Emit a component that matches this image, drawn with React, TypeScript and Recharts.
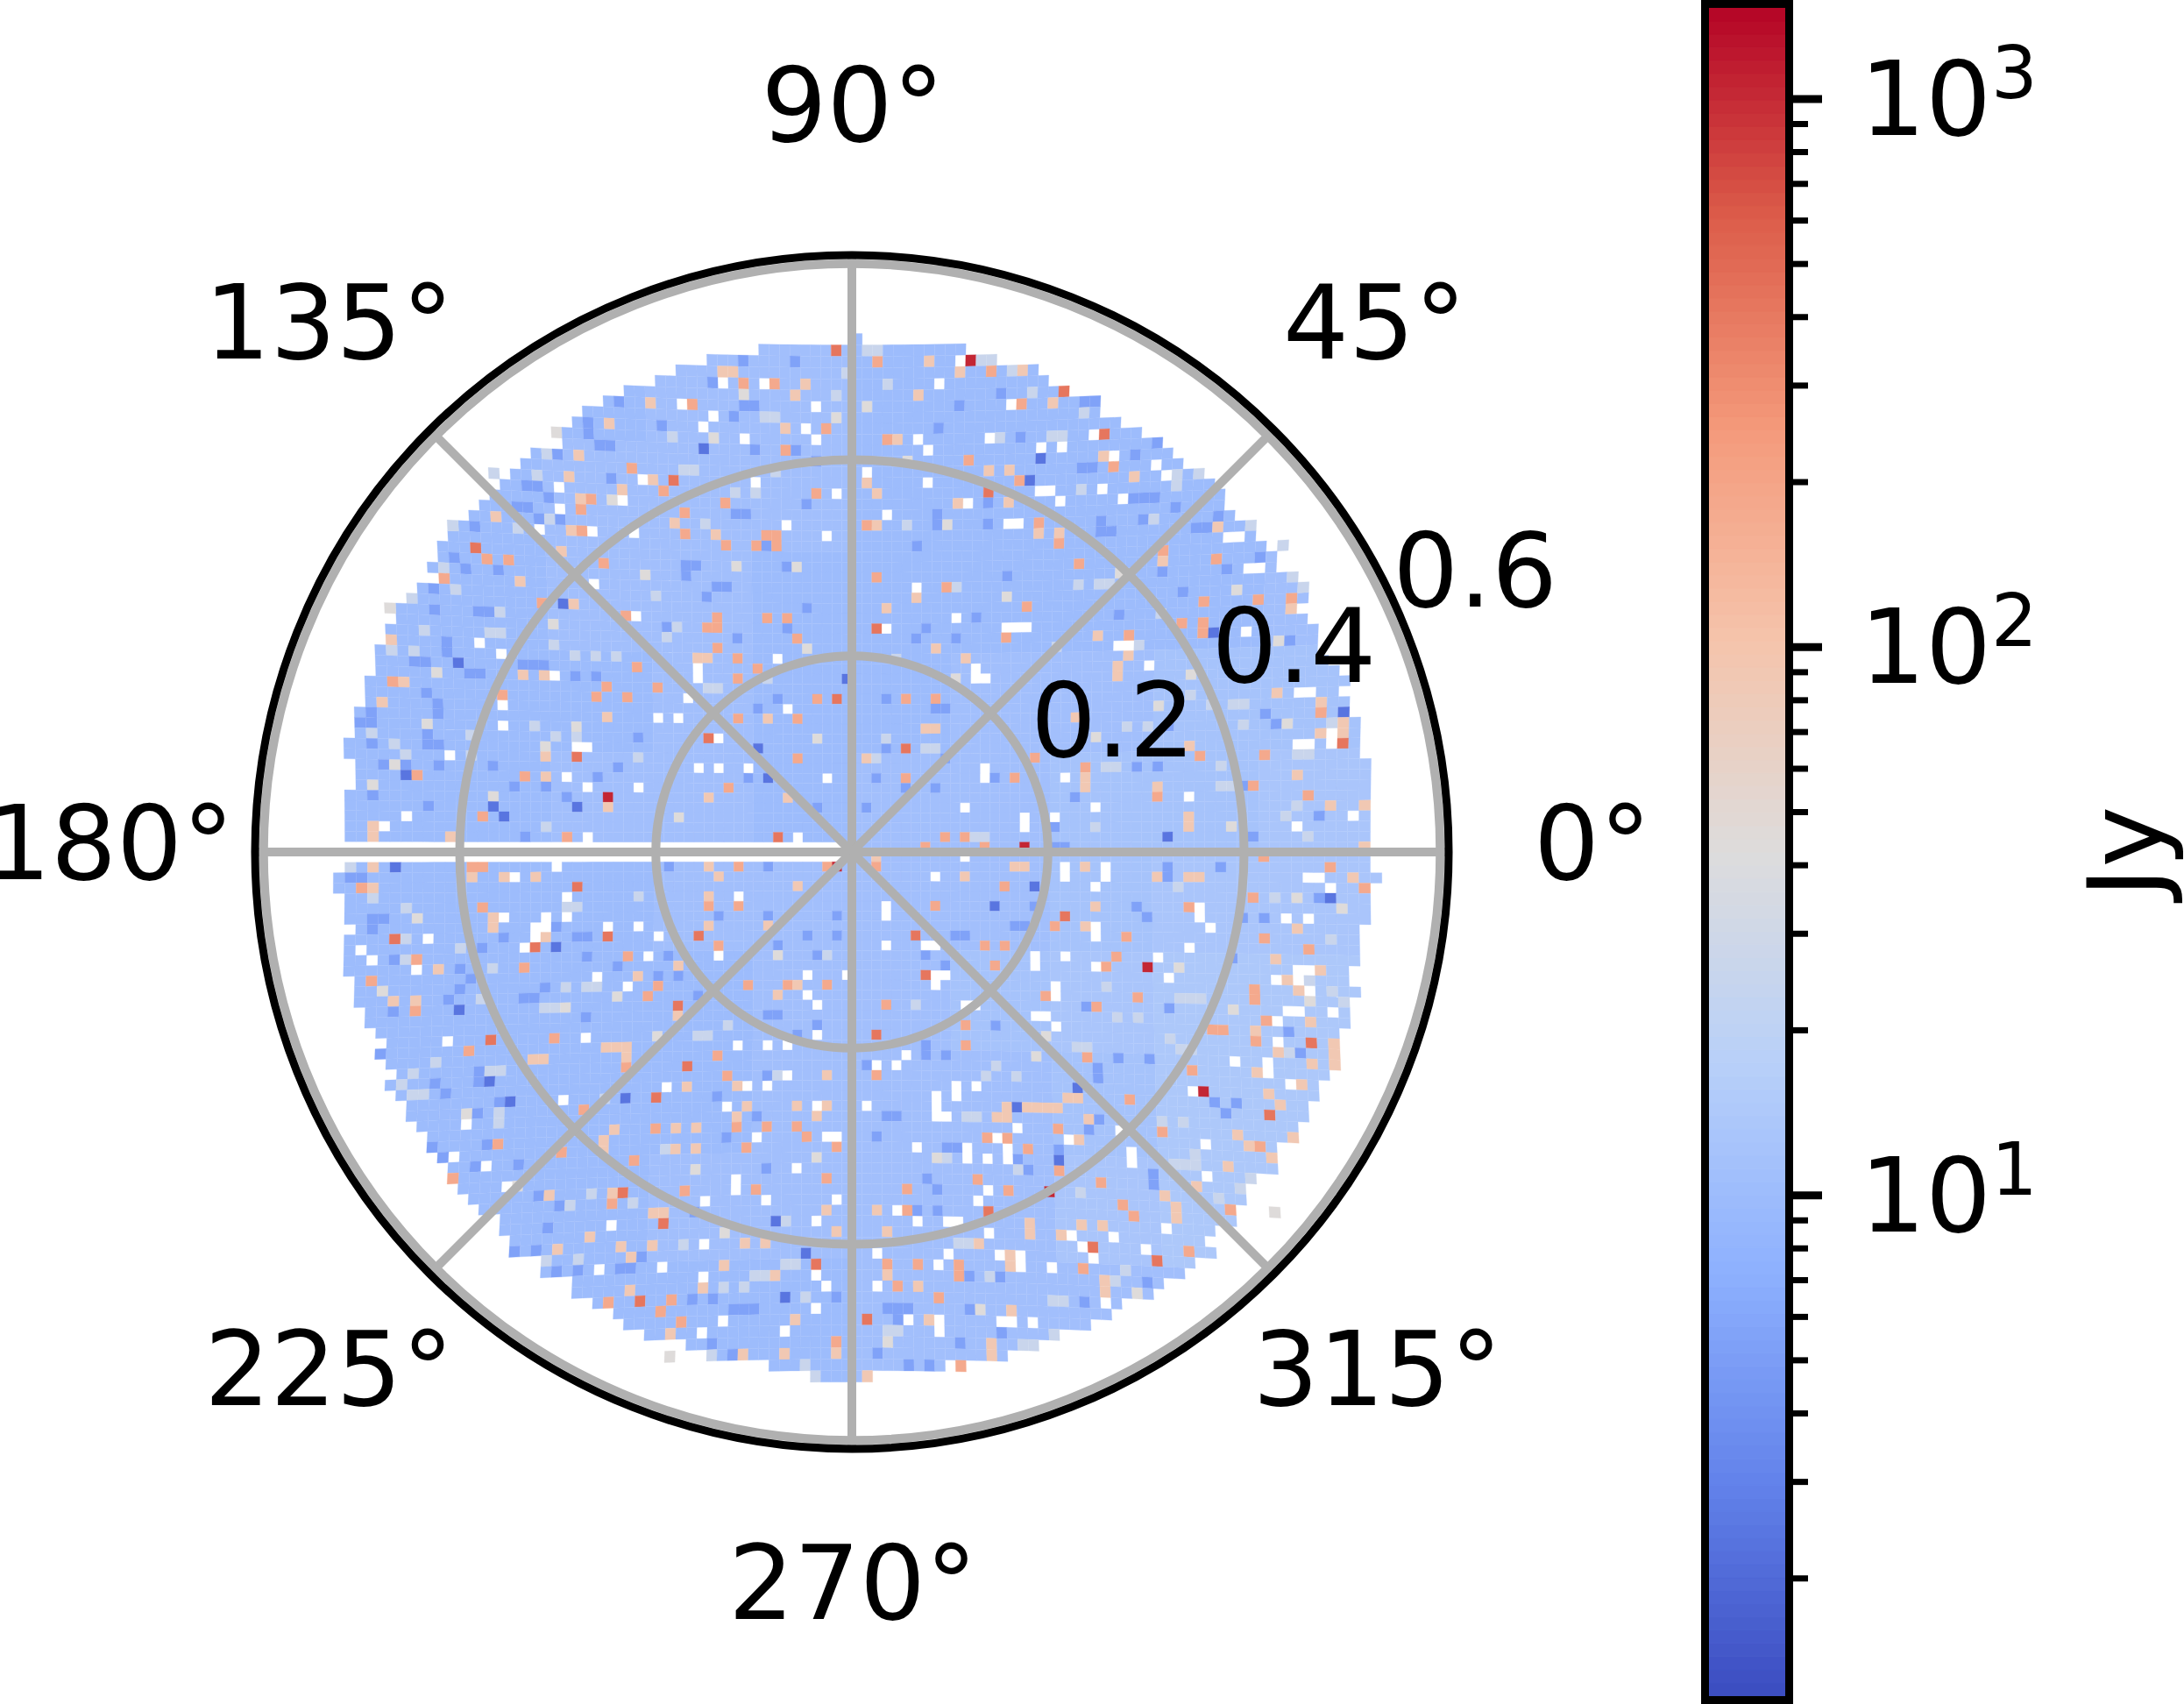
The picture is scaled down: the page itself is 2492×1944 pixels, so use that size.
import React from "react";
import {
  ComposedChart, ScatterChart, RadarChart, Scatter, Radar, XAxis, YAxis, PolarGrid, PolarAngleAxis,
  PolarRadiusAxis, ReferenceArea, Label,
} from "recharts";

// Values read by eye. Cells that stand out are listed one by one; everything else
// uses a coarse regional estimate, so most single blue cells are not exact readings.

//#region Data

const angleLabels = ["90°", "45°", "0°", "315°", "270°", "225°", "180°", "135°"];
const radiusTicks = [0.2, 0.4, 0.6];
const colorbarTicks = [2, 3, 4, 5, 6, 7, 8, 9, 10, 20, 30, 40, 50, 60, 70, 80, 90, 100, 200, 300, 400, 500, 600, 700, 800, 900, 1000];
const majorTicks = [10, 100, 1000];

// first and last column of each grid row, rows -50 to 50
const rowStart = [0, -9, -14, -17, -19, -22, -24, -26, -27, -29, -28, -31, -32, -33, -34, -35, -36, -37, -38, -39, -40, -40, -41, -40, -42, -43, -44, -44, -45, -45, -46, -46, -46, -47, -47, -47, -48, -48, -48, -49, -49, -48, -48, -48, -49, -49, -49, -49, -49, 0, 0, -49, -50, -50, -49, -49, -49, -48, -49, -49, -49, -49, -48, -48, -48, -47, -47, -46, -45, -46, -45, -44, -45, -44, -43, -43, -42, -41, -41, -40, -39, -38, -38, -37, -36, -34, -34, -33, -33, -30, -30, -27, -27, -25, -23, -22, -20, -16, -14, -8, -4];
const rowEnd = [0, 10, 13, 17, 18, 20, 23, 23, 25, 27, 29, 30, 31, 33, 34, 35, 35, 36, 38, 38, 39, 40, 40, 42, 42, 43, 42, 43, 44, 44, 44, 45, 46, 47, 46, 47, 47, 48, 48, 48, 48, 49, 49, 49, 49, 49, 49, 49, 49, 49, 49, 49, 50, 49, 49, 49, 49, 48, 48, 48, 48, 48, 48, 48, 47, 47, 47, 46, 46, 46, 46, 45, 44, 44, 43, 43, 42, 42, 40, 40, 40, 38, 37, 37, 36, 36, 34, 33, 34, 32, 31, 29, 28, 25, 24, 22, 19, 17, 14, 8, 1];

// regional background level in Jy, one row per ten grid rows, one value per ten columns
const regionLevels = [
  [10, 10, 10, 11, 11, 10, 10, 10, 10, 10],
  [10, 10, 11, 11, 11, 10, 10, 10, 10, 10],
  [10, 10, 11, 11, 10, 10, 10, 10, 10, 11],
  [10, 10, 10, 11, 10, 10, 11, 11, 12, 12],
  [10, 10, 11, 11, 10, 11, 11, 12, 12, 13],
  [10, 10, 10, 11, 11, 11, 11, 12, 13, 13],
  [10, 10, 10, 10, 11, 11, 12, 13, 14, 14],
  [10, 10, 10, 10, 11, 11, 11, 12, 14, 14],
  [10, 10, 10, 11, 11, 11, 11, 13, 14, 14],
  [11, 11, 10, 10, 10, 11, 11, 11, 11, 11],
];

const redCells = [[-25, -6], [17, -1], [-2, 1], [29, 11], [34, 23], [19, 33], [11, -48]];
const orangeCells = [[-2, -49], [-18, -37], [-37, -30], [-28, -10], [-15, -12], [-8, -2], [-2, -16], [20, -45], [24, -41], [13, -36], [2, -23], [5, -11], [47, -11], [-28, 3], [-36, 18], [-23, 33], [-21, 43], [-45, 8], [-25, 8], [-32, 9], [-16, 8], [-18, 15], [-17, 21], [-20, 24], [-19, 36], [-4, 40], [6, 8], [21, 6], [44, 18], [40, 25], [7, 12], [13, 35], [2, 18], [23, 38], [29, 39], [1, 45]];
const salmonCells = [[-16, -44], [-8, -46], [-11, -46], [-3, -42], [-7, -40], [-19, -36], [-22, -38], [-13, -35], [-4, -36], [-17, -34], [-17, -32], [-13, -31], [-10, -31], [-8, -32], [-9, -32], [-8, -31], [-36, -29], [-34, -29], [-40, -27], [-27, -32], [-25, -29], [-23, -24], [-31, -25], [-14, -24], [-9, -24], [-7, -24], [-15, -23], [-14, -23], [-6, -22], [-14, -21], [-12, -20], [-10, -19], [-45, -17], [-22, -19], [-43, -8], [-35, -16], [-26, -16], [-23, -16], [-25, -17], [-20, -17], [-12, -18], [-4, -16], [-6, -14], [-12, -14], [-6, -10], [-33, -8], [-13, -7], [-37, -4], [-29, -2], [2, -48], [13, -47], [-26, -35], [-27, -34], [16, -44], [3, -41], [25, -38], [11, -39], [16, -37], [18, -33], [20, -31], [35, -29], [30, -30], [42, -25], [39, -25], [34, -25], [34, -23], [34, -22], [32, -23], [27, -22], [22, -29], [17, -25], [9, -27], [2, -28], [1, -33], [15, -22], [18, -10], [5, -16], [8, -16], [45, -14], [44, -6], [40, -10], [34, -10], [30, -6], [23, -9], [5, -8], [16, -8], [39, -7], [11, -2], [13, -1], [7, -1], [9, -2], [8, 5], [44, 9], [36, 34], [32, 38], [22, 40], [10, 41], [3, 15], [11, 19], [11, 17], [2, 22], [30, 27], [27, 24], [39, 28], [39, 18], [39, 4], [40, 0], [46, 1], [49, 3], [40, 8], [35, 17], [36, 17], [33, 21], [23, 20], [19, 14], [14, 11], [15, 9], [13, 9], [26, 10], [25, 11], [24, 15], [28, 14], [33, 5], [27, 8], [15, 3], [20, 7], [2, 1], [39, 13], [39, 14], [40, 16], [27, 35], [26, 34], [24, 32], [20, 31], [15, 33], [12, 32], [5, 33], [5, 35], [3, 40], [6, 40], [10, 40], [4, 42], [8, 43], [20, 27], [13, 28], [15, 28], [17, 29], [10, 49], [-48, 3], [-37, 5], [-15, 5], [-12, 5], [-14, 9], [-23, 10], [-43, 10], [-33, 11], [-47, 12], [-20, 13], [-21, 14], [-11, 13], [-3, 13], [-7, 13], [-30, 18], [-23, 21], [-38, 19], [-14, 20], [-35, 28], [-22, 30], [-12, 27], [-9, 27], [-5, 28], [-6, 27], [-2, 29], [-17, 33], [-39, 31], [-10, 33], [-3, 32], [-24, 34], [-13, 22], [-2, 47], [-24, 43], [-18, 43], [-19, 44], [-17, 45], [-43, 15], [-38, 1], [-37, 1], [-27, 25], [-29, 29], [-20, 27], [-11, 29], [-12, 1], [-3, 1]];
const peachCells = [[-13, -47], [-12, -47], [-6, -45], [-5, -46], [-7, -42], [-24, -42], [-20, -44], [-27, -39], [-28, -37], [-20, -37], [-23, -36], [-27, -35], [-18, -33], [-14, -32], [-35, -33], [-33, -27], [-28, -32], [-29, -30], [-28, -25], [-16, -20], [-15, -20], [-44, -17], [-45, -21], [-46, -15], [-33, -18], [-31, -18], [-25, -14], [-9, -14], [-31, -8], [-31, -10], [-15, -6], [-7, -6], [-25, -5], [-47, -3], [-47, -2], [-40, -2], [7, -48], [10, -47], [16, -47], [6, -45], [19, -44], [4, -41], [24, -39], [13, -38], [15, -38], [1, -37], [2, -36], [15, -35], [10, -35], [27, -37], [18, -32], [20, -32], [35, -32], [30, -29], [42, -24], [24, -22], [3, -25], [6, -26], [2, -33], [1, -10], [8, -21], [11, -20], [26, -19], [26, -18], [27, -20], [22, -14], [41, -16], [45, -15], [47, -13], [47, -12], [45, -12], [46, -12], [30, -7], [33, -11], [23, -8], [23, -7], [43, -8], [46, -5], [49, -5], [7, -13], [8, -13], [33, -4], [33, -3], [49, -1], [2, 0], [11, 2], [16, 1], [17, 1], [23, 1], [30, 2], [33, 2], [34, 2], [23, 7], [24, 5], [43, 7], [48, 2], [45, 11], [42, 12], [43, 13], [41, 10], [44, 16], [39, 17], [41, 19], [46, 19], [46, 18], [44, 20], [46, 20], [39, 21], [43, 22], [40, 23], [41, 24], [37, 27], [38, 28], [40, 29], [42, 27], [36, 30], [33, 32], [30, 33], [31, 34], [31, 35], [2, 35], [3, 37], [17, 36], [22, 36], [24, 36], [20, 37], [17, 37], [12, 38], [15, 39], [15, 40], [24, 41], [24, 42], [3, 41], [6, 42], [7, 45], [15, 44], [13, 47], [13, 48], [1, 50], [23, 26], [17, 25], [18, 25], [19, 25], [20, 25], [21, 24], [22, 24], [15, 25], [15, 26], [14, 26], [22, 28], [-47, 1], [-38, 2], [-35, 2], [-32, 2], [-47, 3], [-15, 1], [-14, 2], [-15, 4], [-6, 3], [-36, 6], [-36, 7], [-31, 8], [-15, 7], [-9, 7], [-41, 11], [-22, 12], [-18, 11], [-45, 14], [-43, 14], [-6, 13], [-8, 14], [-18, 16], [-25, 19], [-24, 19], [-23, 19], [-23, 20], [-31, 20], [-32, 20], [-12, 26], [-4, 26], [-3, 25], [-11, 25], [-6, 25], [-17, 23], [-12, 23], [-3, 22], [-25, 28], [-25, 29], [-24, 27], [-18, 27], [-16, 27], [-18, 29], [-16, 29], [-20, 35], [-19, 35], [-24, 33], [-30, 33], [-26, 37], [-29, 38], [-23, 38], [-22, 39], [-22, 42], [-13, 40], [-8, 41], [-7, 48], [-11, 48], [-2, 48], [-18, 46], [-6, 45], [-11, 38], [-9, 38], [-2, 37], [-3, 35], [-15, 42], [-20, 38]];
const grayCells = [[-29, -41], [-11, -45], [-2, -43], [-24, -35], [-35, -20], [-28, -13], [-41, -18], [-45, -24], [-21, -28], [-6, -29], [-42, -13], [-45, -9], [-47, -7], [-14, -41], [-31, -11], [-18, -4], [-5, -21], [-30, -23], [1, -44], [5, -39], [9, -33], [15, -26], [26, -28], [33, -18], [41, -21], [42, -13], [37, -3], [43, 4], [47, 5], [44, 14], [32, 11], [18, 20], [27, 30], [12, 44], [3, 47], [-4, 30], [-20, 18], [-38, 25], [-43, 6], [-25, 40], [-13, 37], [-29, 15], [-8, 10], [27, 42], [40, 34], [37, 15], [24, -12], [10, -18], [-12, -29], [-36, -6], [-46, 13], [-33, 32], [-18, 48], [8, 30], [19, 18], [30, -15], [37, -26], [-4, -12], [-24, 14], [-16, 31]];
const paleCells = [[-1, -47], [3, -46], [-18, -41], [-31, -37], [-42, -22], [-47, -12], [-8, -38], [5, -33], [14, -41], [22, -36], [30, -24], [38, -15], [44, -2], [46, 8], [42, 19], [37, 24], [33, 29], [22, 33], [13, 41], [5, 44], [-5, 43], [-17, 38], [-26, 33], [-35, 26], [-41, 20], [-44, 8], [-38, -10], [-28, -20], [-20, -26], [-9, -18], [3, -12], [14, -8], [24, -3], [32, 3], [25, 13], [16, 22], [6, 15], [-3, 10], [-13, 17], [-22, 4], [-31, -3], [10, -27], [20, -21], [-15, -33], [-37, 14], [-25, 24], [-7, 36], [29, 20], [41, 4], [36, -9],
  [-30, -39], [-35, -37], [-39, -32], [-40, -28], [-39, -26], [-43, -25], [-35, -24], [-35, -22], [-36, -22], [-43, -20], [-45, -20], [-28, -20], [-26, -20], [-24, -20], [-17, -38], [-16, -38], [-12, -36], [-10, -36], [-12, -43], [-9, -43], [-8, -43], [-4, -44], [-2, -45], [-30, -33], [-33, -32], [-15, -17], [-14, -17], [-18, -23], [-19, -22], [-30, -12], [-28, -12], [-30, -21], [-22, -10], [-32, -13], [-38, -12], [-45, -11], [-44, -10],
  [1, -49], [2, -49], [12, -48], [13, -48], [15, -47], [17, -45], [22, -43], [19, -41], [20, -41], [31, -37], [31, -36], [33, -37], [38, -32], [41, -30], [42, -27], [43, -26], [29, -33], [25, -27], [24, -27], [22, -27], [28, -21], [33, -16], [35, -15], [37, -15], [38, -13], [43, -10], [44, -10], [46, -13], [47, -13], [42, -4], [43, -5], [36, -7], [37, -7], [27, -13], [29, -13], [15, -22], [8, -11], [7, -11], [25, -9], [26, -9], [12, -2], [13, -2], [4, -20], [2, -10],
  [43, 11], [44, 12], [46, 13], [47, 14], [32, 14], [33, 14], [34, 14], [31, 18], [32, 19], [33, 19], [30, 26], [32, 26], [31, 30], [32, 30], [33, 30], [35, 33], [37, 32], [38, 31], [22, 19], [23, 19], [26, 16], [28, 16], [14, 21], [13, 22], [11, 26], [12, 26], [8, 30], [9, 30], [17, 31], [16, 31], [10, 38], [11, 38], [20, 43], [19, 43], [19, 46], [16, 47], [17, 47], [3, 46], [4, 46], [26, 40], [25, 41],
  [-49, 1], [-44, 5], [-47, 4], [-39, 9], [-44, 10], [-36, 11], [-29, 5], [-28, 5], [-29, 13], [-27, 13], [-26, 13], [-31, 15], [-30, 15], [-36, 21], [-35, 21], [-43, 21], [-44, 22], [-43, 23], [-42, 23], [-35, 25], [-15, 18], [-16, 18], [-9, 22], [-8, 22], [-28, 34], [-29, 34], [-30, 39], [-27, 39], [-10, 41], [-9, 41], [-7, 40], [-6, 40], [-14, 48], [-5, 49], [-4, 50], [-19, 29], [-22, 34], [-13, 42], [-11, 42]];
const midBlueCells = [[-12, -43], [-4, -39], [-24, -37], [-37, -24], [-41, -14], [-36, -9], [-14, -27], [-5, -25], [-19, -23], [-31, -19], [-22, -12], [-11, -8], [-4, -5], [-33, -2], [8, -42], [16, -41], [6, -31], [15, -28], [26, -24], [10, -22], [19, -16], [31, -13], [5, -7], [20, -3], [9, -10], [28, -33], [36, -20], [3, 5], [10, 8], [18, 5], [9, 20], [16, 30], [4, 26], [23, 15], [28, 5], [14, 39], [4, 45], [-2, 43], [-11, 44], [-23, 40], [-33, 30], [-40, 23], [-46, 6], [-38, 12], [-27, 16], [-14, 24], [-6, 18], [-19, 10], [-9, 31], [-29, 34], [-2, 6], [-16, 35], [-42, -5], [-24, -9], [-30, 7],
  [-26, -41], [-26, -42], [-25, -40], [-24, -40], [-29, -39], [-32, -36], [-31, -36], [-30, -35], [-33, -34], [-32, -34], [-31, -33], [-29, -33], [-37, -32], [-39, -29], [-38, -28], [-35, -28], [-41, -26], [-36, -24], [-41, -24], [-40, -20], [-40, -21], [-42, -19], [-43, -19], [-39, -19], [-38, -18], [-37, -18], [-42, -16], [-41, -15], [-47, -14], [-48, -13], [-47, -13], [-47, -11], [-42, -12], [-41, -11], [-42, -11], [-46, -9], [-44, -9], [-41, -9], [-47, -6], [-34, -7], [-31, -7], [-29, -6], [-26, -8], [-33, -19], [-32, -19], [-28, -18], [-26, -18], [-17, -29], [-17, -28], [-16, -29], [-13, -27], [-9, -31], [-7, -29], [-12, -22], [-7, -23], [-10, -15], [-8, -16], [-11, -34], [-12, -34], [-5, -35], [-10, -40], [-6, -40], [-11, -44], [-10, -44], [-6, -48], [-11, -48], [-14, -46], [-23, -44], [-19, -42], [-15, -26],
  [14, -45], [10, -44], [22, -44], [23, -44], [22, -38], [23, -38], [27, -39], [29, -40], [24, -33], [24, -32], [25, -32], [27, -35], [28, -35], [29, -35], [31, -34], [35, -33], [33, -32], [34, -32], [30, -28], [32, -26], [36, -28], [39, -29], [42, -21], [40, -14], [41, -13], [45, -15], [12, -24], [8, -34], [8, -33], [13, -35], [13, -33], [3, -16], [6, -22], [7, -23], [8, -15], [9, -15], [3, -11], [2, -8], [8, -7], [1, -5], [14, -8], [13, -8], [22, -6], [30, -9], [28, -9], [38, -7], [39, -2], [45, -4], [20, -1], [21, -1],
  [1, 21], [7, 20], [7, 19], [8, 33], [8, 35], [7, 32], [6, 35], [17, 31], [18, 20], [24, 21], [24, 22], [24, 26], [23, 27], [29, 31], [29, 32], [36, 25], [37, 24], [35, 24], [43, 19], [42, 17], [48, 11], [45, 4], [38, 6], [40, 6], [31, 1], [31, 2], [36, 1], [29, 6], [14, 5], [17, 7], [16, 7], [11, 8], [7, 10], [9, 11], [37, 10], [31, 15], [26, 20], [29, 20], [14, 17], [3, 26], [2, 28], [9, 29], [10, 29], [20, 29], [11, 41], [4, 44], [3, 44], [5, 44], [11, 44], [14, 46], [10, 47], [2, 48], [5, 49], [7, 49], [14, 41], [22, 43], [28, 41],
  [-48, 2], [-49, 2], [-45, 1], [-47, 6], [-47, 7], [-45, 10], [-39, 11], [-37, 9], [-35, 8], [-27, 10], [-28, 8], [-27, 8], [-24, 11], [-37, 21], [-37, 22], [-20, 12], [-31, 13], [-33, 14], [-32, 14], [-39, 13], [-40, 14], [-45, 15], [-46, 19], [-41, 22], [-40, 23], [-35, 24], [-37, 25], [-36, 28], [-41, 28], [-40, 29], [-37, 30], [-31, 33], [-30, 36], [-33, 38], [-31, 38], [-29, 40], [-27, 40], [-23, 40], [-22, 40], [-21, 39], [-16, 43], [-14, 43], [-12, 44], [-10, 44], [-14, 47], [-12, 48], [-9, 34], [-13, 28], [-10, 26], [-9, 22], [-4, 17], [-9, 16], [-8, 16], [-16, 14], [-18, 12], [-14, 6], [-9, 6], [-2, 8], [-5, 8], [-8, 9], [-4, 10], [-9, 1], [-19, 1]];
const deepBlueCells = [[-15, -40], [-29, -25], [-1, -18], [-10, -11], [-9, -8], [-28, -5], [-35, -4], [-36, -5], [-44, -8], [-39, -19], [17, -37], [18, -39], [35, -22], [47, -14], [31, -2], [22, 23], [16, 25], [20, 30], [18, 3], [46, 4], [14, 5], [-30, 9], [-36, 22], [-34, 24], [-39, 15], [-23, 24], [-45, 1], [-7, 43], [-5, 39], [-8, 36]];
const blankCells = [[-17, -44], [-15, -42], [-14, -43], [-11, -41], [-9, -46], [-13, -46], [-4, -44], [-5, -42], [-4, -41], [-21, -37], [-10, -37], [-23, -35], [-29, -34], [-29, -36], [-2, -36], [-7, -33], [-3, -32], [-26, -32], [-31, -32], [-22, -32], [-26, -27], [-22, -24], [-16, -19], [-16, -18], [-8, -20], [-37, -21], [-35, -20], [-40, -10], [-28, -11], [-27, -11], [-35, -15], [-35, -13], [-30, -18], [-17, -16], [-20, -14], [-18, -14], [-14, -12], [-7, -15], [-14, -9], [-16, -9], [-11, -9], [-3, -8], [-29, -8], [-27, -7], [-22, -7], [-44, -4], [-46, -3], [-27, -2], [-6, -2], [10, -48], [8, -46], [15, -44], [23, -41], [6, -41], [7, -40], [13, -41], [18, -40], [20, -40], [25, -39], [29, -38], [30, -37], [11, -35], [1, -38], [7, -37], [18, -36], [19, -36], [20, -35], [24, -36], [26, -35], [15, -33], [16, -33], [36, -31], [37, -31], [38, -28], [39, -28], [26, -21], [27, -21], [3, -34], [3, -23], [6, -27], [15, -23], [16, -23], [17, -23], [10, -24], [12, -19], [12, -18], [13, -18], [29, -19], [38, -22], [43, -11], [44, -11], [46, -12], [46, -11], [43, -16], [44, -16], [21, -8], [13, -9], [13, -8], [17, -4], [17, -3], [20, -4], [24, -5], [11, -5], [33, -6], [43, -3], [48, -4], [3, 5], [3, 6], [11, 0], [21, 1], [21, 2], [25, 1], [25, 2], [24, 3], [8, 2], [44, 2], [45, 2], [46, 3], [34, 5], [34, 6], [42, 6], [44, 6], [24, 7], [24, 8], [33, 9], [35, 7], [7, 9], [8, 9], [3, 9], [18, 10], [18, 11], [21, 10], [30, 10], [24, 11], [8, 12], [9, 12], [8, 13], [20, 13], [20, 14], [31, 12], [41, 12], [43, 11], [43, 12], [44, 11], [48, 11], [48, 12], [44, 13], [12, 15], [11, 15], [18, 16], [19, 16], [20, 17], [42, 15], [43, 15], [46, 15], [41, 16], [41, 18], [40, 20], [40, 21], [37, 20], [42, 22], [33, 23], [5, 20], [2, 21], [4, 21], [10, 23], [10, 24], [12, 23], [8, 24], [8, 25], [8, 26], [9, 26], [1, 25], [16, 27], [14, 28], [21, 28], [26, 27], [27, 29], [27, 30], [15, 29], [15, 30], [11, 29], [11, 30], [6, 29], [13, 30], [34, 28], [34, 31], [13, 33], [12, 34], [4, 35], [9, 36], [10, 36], [6, 36], [13, 37], [21, 37], [25, 37], [30, 36], [22, 38], [28, 38], [16, 39], [16, 40], [14, 39], [23, 39], [9, 39], [8, 40], [2, 39], [19, 40], [2, 42], [24, 43], [5, 45], [8, 45], [8, 46], [14, 45], [15, 45], [17, 45], [-30, 1], [-34, 2], [-29, 4], [-35, 6], [-31, 6], [-31, 7], [-32, 7], [-32, 8], [-29, 6], [-25, 7], [-22, 7], [-20, 8], [-48, 9], [-42, 8], [-47, 10], [-43, 11], [-33, 9], [-21, 10], [-26, 12], [-23, 13], [-12, 4], [-14, 10], [-5, 12], [-1, 12], [-4, 15], [-5, 14], [-40, 18], [-27, 18], [-12, 19], [-9, 19], [-7, 19], [-4, 18], [-38, 26], [-29, 24], [-19, 23], [-7, 22], [-9, 23], [-11, 23], [-13, 25], [-4, 25], [-10, 28], [-3, 28], [-2, 28], [-39, 29], [-36, 30], [-34, 32], [-6, 31], [-12, 32], [-12, 33], [-15, 34], [-9, 34], [-2, 34], [-24, 36], [-4, 36], [-15, 38], [-25, 40], [-19, 40], [-15, 41], [-3, 42], [-4, 41], [-4, 44], [-13, 45], [-7, 46], [-15, 46]];

const cellLevels: [number[][], number | null][] = [
  [paleCells, 26], [midBlueCells, 5.5], [deepBlueCells, 2.4], [grayCells, 44], [peachCells, 90],
  [salmonCells, 180], [orangeCells, 420], [redCells, 1050], [blankCells, null],
];

//#endregion

const colorStops = ["#3b4cc0", "#6282ea", "#8db0fe", "#b8d0f9", "#dddcdc", "#f5c4ac", "#f49a7b", "#dc5d4a", "#b40426"];
const minJy = 1.22;
const maxJy = 1466;
const outerValue = 0.6087;
const outerPx = 681;
const pxPerUnit = outerPx / outerValue;

const hexRgb = (hex: string) => [1, 3, 5].map((i) => parseInt(hex.slice(i, i + 2), 16));

const jyColor = (jy: number) => {
  const t = (Math.log10(jy) - Math.log10(minJy)) / (Math.log10(maxJy) - Math.log10(minJy));
  const pos = Math.min(0.9999, Math.max(0, t)) * (colorStops.length - 1);
  const i = Math.floor(pos);
  const a = hexRgb(colorStops[i]);
  const b = hexRgb(colorStops[i + 1]);
  const mix = a.map((v, k) => Math.round(v + (b[k] - v) * (pos - i)));
  return `rgb(${mix.join(",")})`;
};

// grid index to polar plot coordinates, the cells are stretched towards the rim
const gridToPlot = (col: number, row: number) => {
  const u = Math.hypot(col, row) * 0.01;
  const stretch = 0.01 * (1 + 0.23 * u * u);
  return [col * stretch, row * stretch];
};

const buildCells = () => {
  const levels = new Map<string, number | null>();
  rowStart.forEach((first, i) => {
    const row = i - 50;
    const band = regionLevels[Math.min(9, Math.floor(i / 10))];
    for (let col = first; col <= rowEnd[i]; col++) {
      levels.set(`${col},${row}`, band[Math.min(9, Math.floor((col + 50) / 10))]);
    }
  });
  cellLevels.forEach(([cells, jy]) => cells.forEach(([col, row]) => levels.set(`${col},${row}`, jy)));

  const out: { x: number; y: number; col: number; row: number; jy: number }[] = [];
  levels.forEach((jy, key) => {
    if (jy === null) return;
    const [col, row] = key.split(",").map(Number);
    const [x, y] = gridToPlot(col + 0.5, row + 0.5);
    out.push({ x, y, col, row, jy });
  });
  return out;
};

const cells = buildCells();

const CellShape = (props: any) => {
  const { cx, cy, payload } = props;
  if (cx == null || !payload) return null;
  const [mx, my] = gridToPlot(payload.col + 0.5, payload.row + 0.5);
  const corners = [[0, 0], [1, 0], [1, 1], [0, 1]].map(([a, b]) => {
    const [x, y] = gridToPlot(payload.col + a, payload.row + b);
    return `${cx + (x - mx) * pxPerUnit},${cy + (y - my) * pxPerUnit}`;
  });
  const fill = jyColor(payload.jy);
  return <polygon points={corners.join(" ")} fill={fill} stroke={fill} strokeWidth={0.3} />;
};

const labelOffsets: Record<string, [number, number]> = {
  "90°": [1, -172], "45°": [115, -123], "0°": [164, -11], "315°": [118, 107],
  "270°": [1, 152], "225°": [-115, 107], "180°": [-166, -11], "135°": [-115, -123],
};

const AngleTick = (props: any) => {
  const { payload, cx, cy } = props;
  const rad = (angleLabels.indexOf(payload.value) * -45 + 90) * (Math.PI / 180);
  const x = cx + outerPx * Math.cos(rad);
  const y = cy - outerPx * Math.sin(rad);
  const [dx, dy] = labelOffsets[payload.value];
  return (
    <text x={x + dx} y={y + dy + 42} textAnchor="middle" fontSize={118} fontFamily="DejaVu Sans" fill="#000">
      {payload.value}
    </text>
  );
};

const RadiusTick = (props: any) => {
  const { x, y, payload } = props;
  return (
    <text x={x + 91} y={y - 23} textAnchor="middle" fontSize={118} fontFamily="DejaVu Sans" fill="#000">
      {payload.value.toFixed(1)}
    </text>
  );
};

const ColorbarTick = (props: any) => {
  const { x, y, payload } = props;
  const major = majorTicks.includes(payload.value);
  const left = 2046 - 1900;
  return (
    <g>
      <line x1={left} x2={left + (major ? 33 : 17)} y1={y} y2={y} stroke="#000" strokeWidth={major ? 9 : 7} />
      {major && (
        <>
          <text x={x + 77} y={y + 41} fontSize={118} fontFamily="DejaVu Sans" fill="#000">10</text>
          <text x={x + 227} y={y - 1} fontSize={83} fontFamily="DejaVu Sans" fill="#000">{Math.round(Math.log10(payload.value))}</text>
        </>
      )}
    </g>
  );
};

const colorbarBands = Array.from({ length: 128 }, (_, i) => {
  const step = Math.log10(maxJy / minJy) / 128;
  const y1 = minJy * 10 ** (i * step);
  const y2 = minJy * 10 ** ((i + 1) * step);
  return { y1, y2, fill: jyColor(Math.sqrt(y1 * y2)) };
});

const frameData = angleLabels.map((angle) => ({ angle, v: 0 }));
const colorbarData = [{ x: 0, v: minJy }, { x: 1, v: maxJy }];

const layer: React.CSSProperties = { position: "absolute", left: 0, top: 0 };

export default function App() {
  return (
    <div style={{ ...layer, width: 2492, height: 1944, background: "#fff", overflow: "hidden" }}>
      <div style={layer}>
        <ScatterChart width={2492} height={1944} margin={{ left: 291, right: 839, top: 291, bottom: 291 }}>
          <XAxis type="number" dataKey="x" domain={[-outerValue, outerValue]} hide />
          <YAxis type="number" dataKey="y" domain={[-outerValue, outerValue]} reversed hide />
          <Scatter data={cells} shape={CellShape} isAnimationActive={false} />
        </ScatterChart>
      </div>

      <div style={layer}>
        <RadarChart
          width={2492} height={1944} data={frameData} cx={972} cy={972}
          outerRadius={outerPx} startAngle={90} endAngle={-270} margin={{ left: 0, right: 0, top: 0, bottom: 0 }}
        >
          <PolarGrid gridType="circle" stroke="#b0b0b0" strokeWidth={10} />
          <PolarAngleAxis dataKey="angle" tick={AngleTick} tickLine={false} axisLine={false} />
          <PolarRadiusAxis
            angle={22.5} domain={[0, outerValue]} ticks={radiusTicks as any} tick={RadiusTick}
            axisLine={false} tickLine={false} tickCount={4} allowDecimals allowDataOverflow
          />
          <Radar dataKey="v" fill="none" stroke="none" isAnimationActive={false} />
          <PolarGrid gridType="circle" polarRadius={[outerPx]} polarAngles={[]} radialLines={false} stroke="#000" strokeWidth={9} />
        </RadarChart>
      </div>

      <div style={{ ...layer, left: 1900 }}>
        <ComposedChart width={592} height={1944} data={colorbarData} margin={{ left: 50, right: 0, top: 9, bottom: 9 }}>
          <XAxis type="number" dataKey="x" domain={[0, 1]} hide />
          <YAxis
            orientation="right" type="number" scale="log" domain={[minJy, maxJy]} ticks={colorbarTicks}
            interval={0} width={455} tick={ColorbarTick} tickLine={false} axisLine={false} allowDataOverflow
          >
            <Label value="Jy" angle={-90} position="right" offset={-68} textAnchor="middle" fontSize={118} fontFamily="DejaVu Sans" fill="#000" />
          </YAxis>
          {colorbarBands.map((b) => (
            <ReferenceArea key={b.y1} y1={b.y1} y2={b.y2} fill={b.fill} fillOpacity={1} stroke={b.fill} ifOverflow="hidden" />
          ))}
        </ComposedChart>
      </div>
      <div style={{ ...layer, left: 1941, width: 105, height: 1944, border: "9px solid #000", boxSizing: "border-box" }} />
    </div>
  );
}
